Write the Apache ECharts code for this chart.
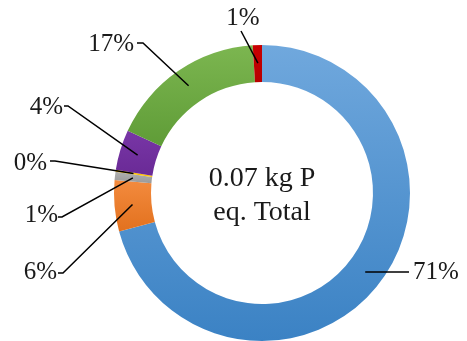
<!DOCTYPE html>
<html>
<head>
<meta charset="utf-8">
<script src="https://cdn.jsdelivr.net/npm/echarts@6/dist/echarts.min.js"></script>
<style>
  html, body { margin: 0; padding: 0; background: #ffffff; }
  #chart { width: 467px; height: 341px; }
</style>
</head>
<body>
<div id="chart"></div>
<script>
// Contribution shares (%) to freshwater eutrophication, clockwise from 12 o'clock
const categories = ['A', 'B', 'C', 'D', 'E', 'F', 'G'];
const shares = [70.8, 5.6, 0.9, 0.2, 4.4, 17.1, 1.0];
const totalLabel = ['0.07 kg P', 'eq. Total'];

// Slice fills: [top colour, bottom colour] of a vertical gradient
const sliceColors = [
  ['#70a8dd', '#3b82c4'],
  ['#f38b3e', '#e2711e'],
  ['#b0b0b0', '#9a9a9a'],
  ['#ffc000', '#ffc000'],
  ['#7836a6', '#6a2a96'],
  ['#7cb650', '#5f9c37'],
  ['#c80000', '#b80000']
];

// Where each leader line bends and ends, and where its text sits
const labelSpots = [
  { end: [409, 272], elbow: [409, 272], x: 413, y: 272, align: 'left' },
  { end: [63, 273], elbow: [58, 273], x: 57, y: 272, align: 'right' },
  { end: [62, 217], elbow: [58, 217], x: 58, y: 215, align: 'right' },
  { end: [55, 161], elbow: [50, 161], x: 47, y: 163, align: 'right' },
  { end: [68, 106], elbow: [64, 106], x: 63, y: 107, align: 'right' },
  { end: [143, 43], elbow: [137, 43], x: 134, y: 44, align: 'right' },
  { end: [241, 31], elbow: [241, 31], x: 243, y: 18, align: 'center' }
];

const cx = 262, cy = 193;
const serif = '"Liberation Serif", "Times New Roman", serif';

const ringData = categories.map((name, i) => ({
  name: name,
  value: shares[i],
  itemStyle: {
    color: new echarts.graphic.LinearGradient(0, 0, 0, 1, [
      { offset: 0, color: sliceColors[i][0] },
      { offset: 1, color: sliceColors[i][1] }
    ])
  }
}));

const chart = echarts.init(document.getElementById('chart'), null, { renderer: 'canvas' });

chart.setOption({
  animation: false,
  backgroundColor: '#ffffff',
  series: [
    {
      type: 'pie',
      z: 2,
      center: [cx, cy],
      radius: [111, 148],
      startAngle: 90,
      clockwise: true,
      silent: true,
      label: { show: false },
      labelLine: { show: false },
      itemStyle: { borderWidth: 0 },
      data: ringData
    },
    {
      // invisible pie ending mid-ring: its label lines start inside the ring
      type: 'pie',
      z: 5,
      center: [cx, cy],
      radius: [0, 130],
      startAngle: 90,
      clockwise: true,
      silent: true,
      percentPrecision: 0,
      avoidLabelOverlap: false,
      itemStyle: { color: 'rgba(0,0,0,0)', borderWidth: 0 },
      label: {
        show: true,
        position: 'outside',
        formatter: '{d}%',
        fontFamily: serif,
        fontSize: 25,
        color: '#1a1a1a'
      },
      labelLine: {
        show: true,
        length: 10,
        length2: 10,
        lineStyle: { color: '#000000', width: 1.5 }
      },
      labelLayout: function (params) {
        const s = labelSpots[params.dataIndex];
        const start = params.labelLinePoints ? params.labelLinePoints[0] : s.end;
        return {
          x: s.x,
          y: s.y,
          align: s.align,
          verticalAlign: 'middle',
          labelLinePoints: [start, s.end, s.elbow]
        };
      },
      data: categories.map((name, i) => ({ name: name, value: shares[i] }))
    }
  ],
  graphic: [
    {
      type: 'text',
      silent: true,
      z: 10,
      style: {
        x: cx,
        y: 196,
        text: totalLabel.join('\n'),
        align: 'center',
        verticalAlign: 'middle',
        fontFamily: serif,
        fontSize: 28,
        lineHeight: 34,
        fill: '#1a1a1a'
      }
    }
  ]
});
</script>
</body>
</html>
